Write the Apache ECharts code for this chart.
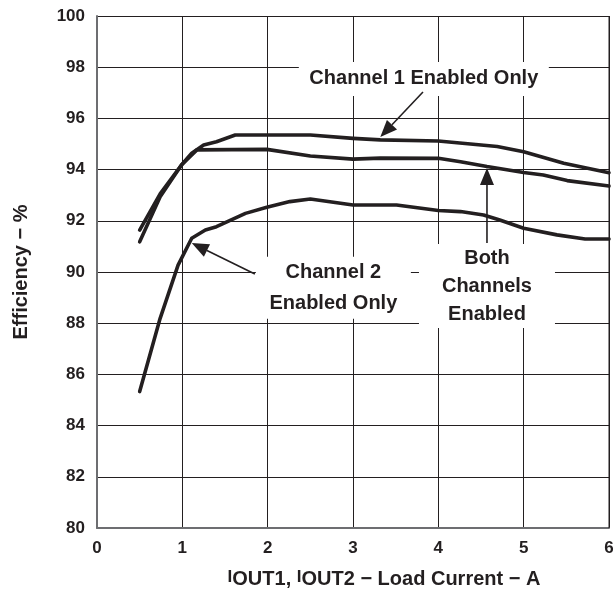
<!DOCTYPE html>
<html>
<head>
<meta charset="utf-8">
<script src="https://cdn.jsdelivr.net/npm/echarts@6/dist/echarts.min.js"></script>
<style>
html,body{margin:0;padding:0;background:#fff;}
#main{width:613px;height:597px;}
</style>
</head>
<body>
<div id="main"></div>
<script>
// ---- data ----
const xTicks = [0, 1, 2, 3, 4, 5, 6];
const yTicks = [80, 82, 84, 86, 88, 90, 92, 94, 96, 98, 100];

const ch1Only = [
  [0.50, 91.18], [0.74, 92.94], [0.99, 94.18], [1.11, 94.64], [1.25, 94.96],
  [1.40, 95.09], [1.62, 95.35], [2.50, 95.35], [3.00, 95.22], [3.32, 95.16],
  [4.00, 95.12], [4.69, 94.90], [5.00, 94.70], [5.47, 94.25], [6.00, 93.88]
];
const bothEnabled = [
  [0.50, 91.64], [0.74, 93.05], [0.99, 94.18], [1.17, 94.77], [1.99, 94.79],
  [2.50, 94.53], [3.00, 94.41], [3.32, 94.45], [4.00, 94.44], [4.26, 94.31],
  [4.57, 94.12], [5.00, 93.89], [5.23, 93.79], [5.51, 93.57], [6.00, 93.36]
];
const ch2Only = [
  [0.50, 85.33], [0.74, 88.19], [0.95, 90.27], [1.11, 91.32], [1.27, 91.64],
  [1.40, 91.77], [1.74, 92.29], [1.99, 92.53], [2.26, 92.75], [2.50, 92.85],
  [3.00, 92.62], [3.51, 92.62], [4.00, 92.40], [4.26, 92.36], [4.53, 92.23],
  [4.72, 92.03], [5.00, 91.71], [5.39, 91.45], [5.72, 91.29], [6.00, 91.29]
];

// annotation anchors (data coordinates)
const annotations = [
  {lines: ['Channel 1 Enabled Only'], center: [3.83, 97.54], box: [250, 34], lh: 31,
   arrowFrom: [3.82, 97.03], arrowTo: [3.32, 95.27]},
  {lines: ['Channel 2', 'Enabled Only'], center: [2.77, 89.38], box: [155, 62], lh: 31,
   arrowFrom: [1.85, 89.92], arrowTo: [1.11, 91.13]},
  {lines: ['Both', 'Channels', 'Enabled'], center: [4.57, 89.45], box: [136, 84], lh: 28,
   arrowFrom: [4.57, 91.13], arrowTo: [4.57, 94.06]}
];

const FONT = '"Liberation Sans", Arial, Helvetica, sans-serif';
const TXT = '#231f20';
const LINE = '#231f20';

const chart = echarts.init(document.getElementById('main'), null, {renderer: 'canvas'});

function mkSeries(name, data) {
  return {
    name: name, type: 'line', data: data, showSymbol: false, symbol: 'none',
    smooth: false, lineStyle: {color: LINE, width: 3.6, cap: 'round', join: 'round'},
    z: 3, animation: false
  };
}

const option = {
  animation: false,
  backgroundColor: '#fff',
  grid: {left: 97, right: 4, top: 16, bottom: 69, containLabel: false, outerBoundsMode: 'none'},
  xAxis: {
    type: 'value', min: xTicks[0], max: xTicks[xTicks.length - 1], interval: 1,
    name: '{i|I}{s|OUT1}{n|, }{i|I}{s|OUT2}{n| − Load Current − A}',
    nameLocation: 'middle', nameGap: 41,
    nameTextStyle: {
      padding: [0, 0, 0, 62],
      rich: {
        i: {fontSize: 17, fontWeight: 'bold', fontFamily: FONT, color: TXT, lineHeight: 17, verticalAlign: 'top'},
        s: {fontSize: 20, fontWeight: 'bold', fontFamily: FONT, color: TXT, lineHeight: 20, verticalAlign: 'bottom'},
        n: {fontSize: 20, fontWeight: 'bold', fontFamily: FONT, color: TXT, lineHeight: 20, verticalAlign: 'top'}
      }
    },
    axisLine: {show: true, lineStyle: {color: '#6d6e71', width: 2}},
    axisTick: {show: false},
    axisLabel: {fontSize: 17, fontWeight: 'bold', fontFamily: FONT, color: TXT, margin: 12},
    splitLine: {show: true, lineStyle: {color: '#231f20', width: 1}}
  },
  yAxis: {
    type: 'value', min: yTicks[0], max: yTicks[yTicks.length - 1], interval: 2,
    name: 'Efficiency − %', nameLocation: 'middle', nameGap: 66, nameRotate: 90,
    nameTextStyle: {fontSize: 20, fontWeight: 'bold', fontFamily: FONT, color: TXT},
    axisLine: {show: true, lineStyle: {color: '#6d6e71', width: 2}},
    axisTick: {show: false},
    axisLabel: {fontSize: 17, fontWeight: 'bold', fontFamily: FONT, color: TXT, margin: 12},
    splitLine: {show: true, lineStyle: {color: '#231f20', width: 1}}
  },
  series: [
    mkSeries('Channel 1 Enabled Only', ch1Only),
    mkSeries('Both Channels Enabled', bothEnabled),
    mkSeries('Channel 2 Enabled Only', ch2Only)
  ]
};
chart.setOption(option);

function buildGraphics() {
  const els = [];
  const p0 = chart.convertToPixel({gridIndex: 0}, [6, 80]);
  const p1 = chart.convertToPixel({gridIndex: 0}, [6, 100]);
  els.push({type: 'line', shape: {x1: p0[0], y1: p0[1], x2: p1[0], y2: p1[1]},
    style: {stroke: '#231f20', lineWidth: 1}, z: 2});
  annotations.forEach(a => {
    const c = chart.convertToPixel({gridIndex: 0}, a.center);
    const f = chart.convertToPixel({gridIndex: 0}, a.arrowFrom);
    const t = chart.convertToPixel({gridIndex: 0}, a.arrowTo);
    els.push({type: 'rect', shape: {x: c[0] - a.box[0] / 2, y: c[1] - a.box[1] / 2, width: a.box[0], height: a.box[1]},
      style: {fill: '#fff'}, z: 10});
    els.push({type: 'text', x: c[0], y: c[1], z: 11,
      style: {text: a.lines.join('\n'), fill: TXT, font: 'bold 20px ' + FONT,
        align: 'center', verticalAlign: 'middle', lineHeight: a.lh}});
    const dx = t[0] - f[0], dy = t[1] - f[1];
    const len = Math.sqrt(dx * dx + dy * dy);
    const ux = dx / len, uy = dy / len;
    const hl = 17, hw = 7;
    const bx = t[0] - ux * hl, by = t[1] - uy * hl;
    els.push({type: 'line', shape: {x1: f[0], y1: f[1], x2: bx, y2: by},
      style: {stroke: '#231f20', lineWidth: 1.6}, z: 12});
    els.push({type: 'polygon', shape: {points: [
      [t[0], t[1]], [bx - uy * hw, by + ux * hw], [bx + uy * hw, by - ux * hw]]},
      style: {fill: '#231f20'}, z: 12});
  });
  chart.setOption({graphic: els});
}
buildGraphics();
</script>
</body>
</html>
